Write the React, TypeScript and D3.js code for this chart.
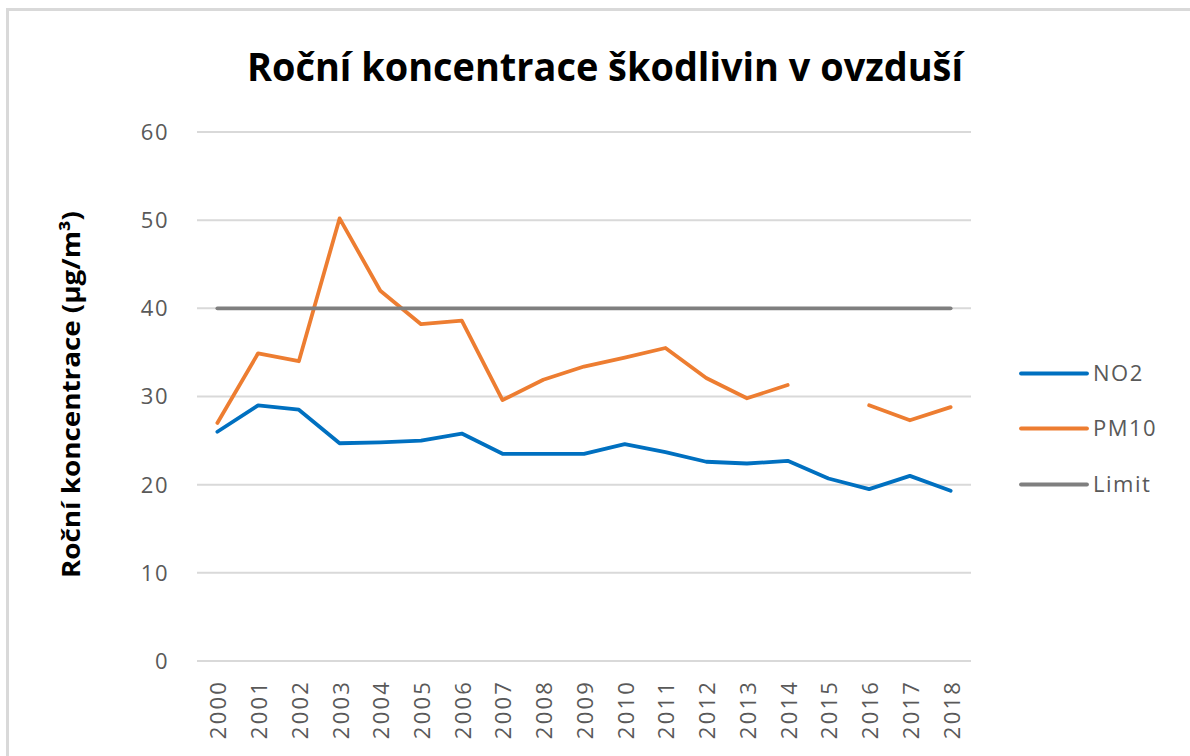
import React from "react";
import * as d3 from "d3";

const years: string[] = ["2000","2001","2002","2003","2004","2005","2006","2007","2008","2009","2010","2011","2012","2013","2014","2015","2016","2017","2018"];
const no2: (number | null)[] = [26.0, 29.0, 28.5, 24.7, 24.8, 25.0, 25.8, 23.5, 23.5, 23.5, 24.6, 23.7, 22.6, 22.4, 22.7, 20.7, 19.5, 21.0, 19.3];
const pm10: (number | null)[] = [27.0, 34.9, 34.0, 50.2, 42.0, 38.2, 38.6, 29.6, 31.9, 33.4, 34.4, 35.5, 32.1, 29.8, 31.3, null, 29.0, 27.3, 28.8];
const limit: (number | null)[] = [40, 40, 40, 40, 40, 40, 40, 40, 40, 40, 40, 40, 40, 40, 40, 40, 40, 40, 40];
const yTicks: number[] = [0, 10, 20, 30, 40, 50, 60];

const seriesNames = ["NO2", "PM10", "Limit"];
const seriesColors = ["#0070C0", "#ED7D31", "#7F7F7F"];
const seriesData = [no2, pm10, limit];

const TITLE = "Roční koncentrace škodlivin v ovzduší";
const Y_TITLE = "Roční koncentrace (µg/m³)";

export default function App() {
  const W = 1190, H = 756;
  const x = d3.scalePoint<string>().domain(years).range([197, 971]).padding(0.5);
  const y = d3.scaleLinear().domain([0, 60]).range([661, 132]);
  const line = d3
    .line<number | null>()
    .defined((d) => d != null)
    .x((_, i) => x(years[i]) as number)
    .y((d) => y(d as number));

  const gray = "#595959";
  const font = "'Open Sans', 'Noto Sans', sans-serif";

  return (
    <svg
      width={W}
      height={H}
      style={{ position: "absolute", left: 0, top: 0, background: "#fff" }}
      fontFamily={font}
    >
      <rect x={7.5} y={9.5} width={1300} height={900} fill="#fff" stroke="#d9d9d9" strokeWidth={3} />

      <text
        x={605}
        y={81}
        textAnchor="middle"
        fontSize={40}
        fontWeight="bold"
        fill="#000"
        textLength={716}
        lengthAdjust="spacingAndGlyphs"
      >
        {TITLE}
      </text>

      {yTicks.map((t) => (
        <g key={t}>
          <line x1={197} x2={971} y1={y(t)} y2={y(t)} stroke="#d9d9d9" strokeWidth={2} />
          <text
            x={169}
            y={y(t)}
            dy="0.36em"
            textAnchor="end"
            fontSize={22}
            letterSpacing={1.5}
            fill={gray}
          >
            {t}
          </text>
        </g>
      ))}

      {years.map((yr) => (
        <text
          key={yr}
          transform={`translate(${(x(yr) as number) + 1},680) rotate(-90)`}
          dy="0.36em"
          textAnchor="end"
          fontSize={22}
          letterSpacing={2.2}
          fill={gray}
        >
          {yr}
        </text>
      ))}

      <text
        transform={`translate(80,394.5) rotate(-90)`}
        textAnchor="middle"
        fontSize={25}
        fontWeight="bold"
        fill="#000"
        textLength={367}
        lengthAdjust="spacingAndGlyphs"
      >
        {Y_TITLE}
      </text>

      {seriesData.map((s, i) => (
        <path
          key={seriesNames[i]}
          d={line(s) || ""}
          fill="none"
          stroke={seriesColors[i]}
          strokeWidth={3.8}
          strokeLinejoin="round"
          strokeLinecap="round"
        />
      ))}

      {seriesNames.map((n, i) => {
        const ly = [373.5, 428.5, 484.5][i];
        return (
          <g key={n}>
            <line x1={1021} x2={1087} y1={ly} y2={ly} stroke={seriesColors[i]} strokeWidth={3.8} strokeLinecap="round" />
            <text x={1093} y={ly} dy="0.36em" fontSize={22} letterSpacing={1.5} fill={gray}>
              {n}
            </text>
          </g>
        );
      })}
    </svg>
  );
}
